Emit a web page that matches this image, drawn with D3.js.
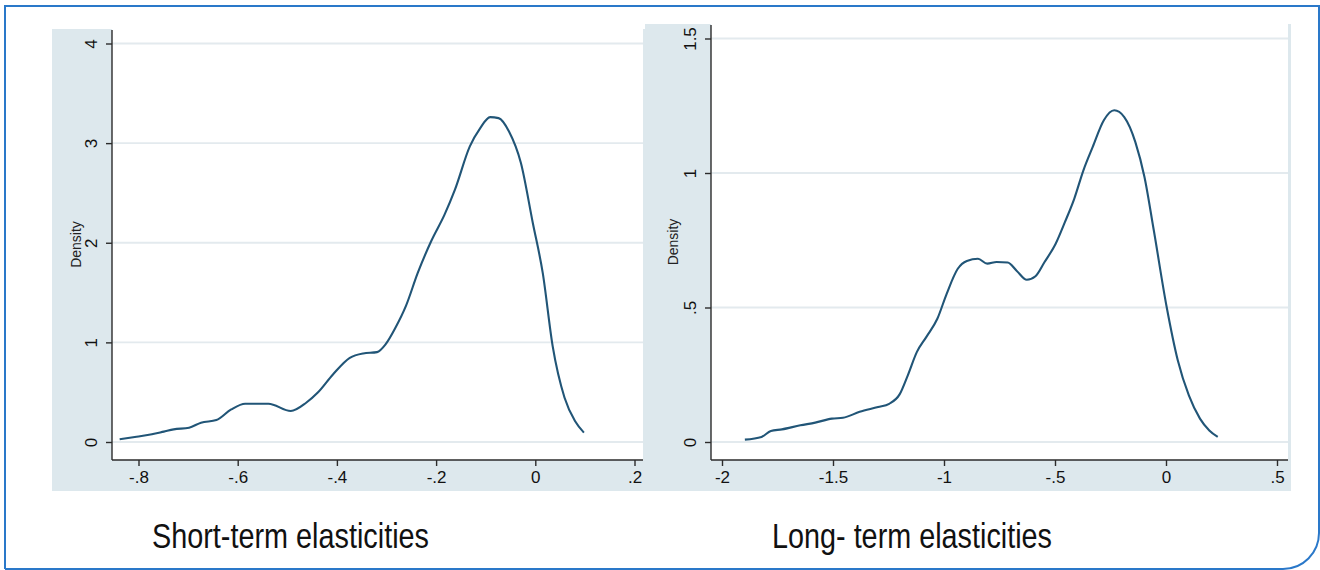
<!DOCTYPE html>
<html>
<head>
<meta charset="utf-8">
<script src="https://cdn.jsdelivr.net/npm/d3@7"></script>
<style>
  body { margin: 0; background: #fff; }
  svg { display: block; font-family: "Liberation Sans", Arial, sans-serif; }
</style>
</head>
<body>
<svg id="chart" width="1320" height="570"></svg>
<script>
// short-term kernel density
const shortX = [-0.838, -0.804, -0.773, -0.749, -0.729, -0.698, -0.674, -0.643, -0.613, -0.585,
  -0.538, -0.493, -0.462, -0.439, -0.408, -0.374, -0.347, -0.319, -0.302, -0.282, -0.261, -0.237,
  -0.210, -0.183, -0.162, -0.132, -0.111, -0.091, -0.074, -0.053, -0.029, -0.005, 0.015, 0.035,
  0.059, 0.080, 0.098];
const shortY = [0.027, 0.053, 0.077, 0.104, 0.127, 0.144, 0.194, 0.22, 0.327, 0.384,
  0.384, 0.311, 0.394, 0.494, 0.678, 0.845, 0.889, 0.902, 0.979, 1.146, 1.363, 1.697,
  2.015, 2.282, 2.533, 2.967, 3.151, 3.261, 3.251, 3.117, 2.80, 2.198, 1.697, 0.962,
  0.444, 0.21, 0.094];

// long-term kernel density
const longX = [-1.897, -1.822, -1.78, -1.73, -1.647, -1.58, -1.505, -1.455, -1.38, -1.297,
  -1.247, -1.2, -1.163, -1.122, -1.08, -1.03, -0.988, -0.938, -0.897, -0.847, -0.805, -0.763,
  -0.713, -0.672, -0.627, -0.588, -0.547, -0.497, -0.455, -0.413, -0.372, -0.33, -0.28, -0.233,
  -0.188, -0.138, -0.097, -0.055, 0.003, 0.053, 0.103, 0.153, 0.195, 0.233];
const longY = [0.009, 0.019, 0.041, 0.047, 0.062, 0.072, 0.087, 0.09, 0.112, 0.130,
  0.142, 0.177, 0.248, 0.335, 0.39, 0.458, 0.551, 0.644, 0.673, 0.681, 0.663, 0.669,
  0.667, 0.636, 0.603, 0.616, 0.669, 0.737, 0.818, 0.905, 1.01, 1.097, 1.196, 1.233,
  1.208, 1.115, 0.985, 0.787, 0.502, 0.304, 0.173, 0.087, 0.043, 0.019];

const shortXTicks = [-0.8, -0.6, -0.4, -0.2, 0, 0.2];
const shortYTicks = [0, 1, 2, 3, 4];
const longXTicks = [-2, -1.5, -1, -0.5, 0, 0.5];
const longYTicks = [0, 0.5, 1, 1.5];

const titles = ["Short-term elasticities", "Long- term elasticities"];

// Stata-style labels: drop leading zero, "-.8", ".5"
const stataFmt = v => {
  let s = String(+v.toFixed(2));
  return s.replace(/^(-?)0\./, "$1.");
};

const svg = d3.select("#chart");
const bg = "#dde8ed";
const lineColor = "#215577";

function panel(o) {
  const g = svg.append("g");
  const clipId = "clip" + o.id;
  g.append("clipPath").attr("id", clipId)
    .append("rect").attr("x", o.left).attr("y", o.top)
    .attr("width", o.right - o.left).attr("height", o.bottom - o.top);
  const p = g.append("g").attr("clip-path", `url(#${clipId})`);

  // graph region + white plot region
  p.append("rect").attr("x", o.left).attr("y", o.top)
    .attr("width", o.right - o.left).attr("height", o.bottom - o.top).attr("fill", bg);
  p.append("rect").attr("x", o.axisX).attr("y", o.top)
    .attr("width", o.plotRight - o.axisX).attr("height", o.axisY - o.top).attr("fill", "#fff");

  const x = d3.scaleLinear(o.xDomain, o.xRange);
  const y = d3.scaleLinear(o.yDomain, o.yRange);

  // grid
  p.append("g").selectAll("line").data(o.yTicks).join("line")
    .attr("x1", o.axisX).attr("x2", o.plotRight)
    .attr("y1", d => y(d)).attr("y2", d => y(d))
    .attr("stroke", "#e3eaee").attr("stroke-width", 1.8);

  // density curve
  const pts = o.xs.map((v, i) => [v, o.ys[i]]);
  p.append("path").datum(pts)
    .attr("fill", "none").attr("stroke", lineColor).attr("stroke-width", 2.1)
    .attr("stroke-linejoin", "round")
    .attr("d", d3.line().x(d => x(d[0])).y(d => y(d[1])).curve(d3.curveMonotoneX));

  // axes
  const xAxis = p.append("g").attr("transform", `translate(0,${o.axisY})`)
    .call(d3.axisBottom(x).tickValues(o.xTicks).tickFormat(stataFmt).tickSize(6).tickPadding(5));
  xAxis.select(".domain").attr("d", `M${o.axisX},0H${o.plotRight}`);
  const yAxis = p.append("g").attr("transform", `translate(${o.axisX},0)`)
    .call(d3.axisLeft(y).tickValues(o.yTicks).tickFormat(stataFmt).tickSize(6).tickPadding(0));
  yAxis.select(".domain").attr("d", `M0,${o.top + 1}V${o.axisY}`);

  [xAxis, yAxis].forEach(a => {
    a.select(".domain").attr("stroke", "#2b2b2b").attr("stroke-width", 1.4);
    a.selectAll(".tick line").attr("stroke", "#2b2b2b").attr("stroke-width", 1.4);
    a.selectAll(".tick text").attr("fill", "#111").style("font-size", "17px")
      .style("font-family", "'Liberation Sans', Arial, sans-serif");
  });
  yAxis.selectAll(".tick text")
    .attr("x", null).attr("dy", null)
    .attr("text-anchor", "middle")
    .attr("transform", `translate(${o.yLabelX - o.axisX},0) rotate(-90)`)
    .attr("dy", "0.35em");

  p.append("text")
    .attr("transform", `translate(${o.titleX},${(o.top + o.axisY) / 2}) rotate(-90)`)
    .attr("text-anchor", "middle").attr("dy", "0.35em")
    .style("font-size", "14px").attr("fill", "#222").text("Density");

  svg.append("text")
    .attr("x", o.capX).attr("y", 548)
    .attr("textLength", o.capW).attr("lengthAdjust", "spacingAndGlyphs")
    .style("font-size", "35px").attr("fill", "#111").text(o.caption);
}

panel({
  id: 1, left: 52, right: 645, top: 29, bottom: 491,
  axisX: 112, axisY: 460, plotRight: 643,
  xDomain: [-0.8, 0.2], xRange: [138.5, 634.5],
  yDomain: [0, 4], yRange: [442, 43.5],
  xTicks: shortXTicks, yTicks: shortYTicks,
  xs: shortX, ys: shortY,
  yLabelX: 91, titleX: 76,
  caption: titles[0], capX: 152, capW: 277
});

panel({
  id: 2, left: 645, right: 1291, top: 24, bottom: 491,
  axisX: 711, axisY: 460, plotRight: 1288,
  xDomain: [-2, 0.5], xRange: [722, 1277],
  yDomain: [0, 1.5], yRange: [442, 38.5],
  xTicks: longXTicks, yTicks: longYTicks,
  xs: longX, ys: longY,
  yLabelX: 690, titleX: 673,
  caption: titles[1], capX: 772, capW: 280
});

// outer frame with rounded lower-right corner
const r = 36;
svg.append("path")
  .attr("d", `M5,569V6H1319V${569 - r}A${r},${r} 0 0 1 ${1319 - r},569H5`)
  .attr("fill", "none").attr("stroke", "#2a78c9").attr("stroke-width", 2);
</script>
</body>
</html>
